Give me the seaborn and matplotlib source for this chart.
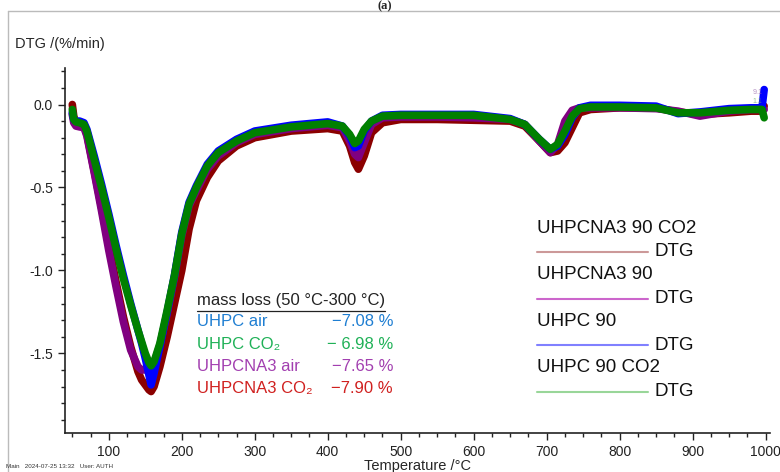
import matplotlib
matplotlib.use('Agg')
import matplotlib.pyplot as plt
from matplotlib.ticker import MultipleLocator
import seaborn as sns
import pandas as pd

# temperature grid (deg C) shared by the four DTG runs
temp = [50, 52, 55, 60, 66, 70, 80, 90, 100, 110, 120, 130, 140, 145, 150, 155, 158, 162,
        170, 180, 190, 200, 210, 220, 235, 250, 275, 300, 350, 400, 420, 430, 437, 442,
        450, 460, 475, 500, 550, 600, 650, 670, 690, 705, 715, 725, 735, 745, 760,
        800, 850, 880, 910, 950, 980, 995, 998]

dtg_uhpcna3_co2 = [0.0, -0.07, -0.115, -0.12, -0.13, -0.18, -0.40, -0.62, -0.85, -1.07, -1.28, -1.46, -1.61, -1.66, -1.69, -1.72, -1.73, -1.70,
                   -1.58, -1.40, -1.20, -1.00, -0.75, -0.58, -0.44, -0.34, -0.25, -0.20, -0.16, -0.145, -0.16, -0.25, -0.35, -0.39,
                   -0.31, -0.17, -0.11, -0.09, -0.09, -0.095, -0.10, -0.13, -0.22, -0.29, -0.28, -0.23, -0.14, -0.05, -0.03,
                   -0.02, -0.02, -0.045, -0.06, -0.05, -0.04, -0.04, -0.01]
dtg_uhpcna3 = [-0.06, -0.11, -0.13, -0.135, -0.14, -0.19, -0.41, -0.64, -0.88, -1.10, -1.31, -1.48, -1.58, -1.60, -1.60, -1.60, -1.59, -1.56,
               -1.45, -1.26, -1.04, -0.79, -0.61, -0.52, -0.39, -0.31, -0.23, -0.18, -0.145, -0.125, -0.14, -0.22, -0.30, -0.32,
               -0.23, -0.12, -0.08, -0.075, -0.075, -0.08, -0.09, -0.12, -0.22, -0.29, -0.24, -0.10, -0.035, -0.02, -0.02,
               -0.02, -0.025, -0.04, -0.07, -0.04, -0.03, -0.03, -0.03]
dtg_uhpc = [-0.05, -0.09, -0.10, -0.10, -0.11, -0.15, -0.31, -0.48, -0.66, -0.85, -1.03, -1.20, -1.36, -1.44, -1.53, -1.63, -1.69, -1.62,
            -1.46, -1.25, -1.03, -0.77, -0.59, -0.49, -0.36, -0.28, -0.21, -0.16, -0.125, -0.105, -0.13, -0.19, -0.26, -0.25,
            -0.16, -0.10, -0.065, -0.06, -0.06, -0.06, -0.085, -0.12, -0.21, -0.27, -0.25, -0.18, -0.08, -0.02, -0.005,
            -0.005, -0.01, -0.055, -0.045, -0.025, -0.02, -0.02, 0.09]
dtg_uhpc_co2 = [-0.03, -0.09, -0.105, -0.11, -0.12, -0.16, -0.33, -0.50, -0.68, -0.87, -1.05, -1.21, -1.36, -1.43, -1.50, -1.555, -1.575, -1.55,
                -1.44, -1.24, -1.03, -0.78, -0.60, -0.50, -0.37, -0.29, -0.22, -0.17, -0.135, -0.115, -0.13, -0.18, -0.235, -0.22,
                -0.15, -0.10, -0.07, -0.065, -0.065, -0.065, -0.09, -0.12, -0.21, -0.27, -0.24, -0.16, -0.07, -0.025, -0.015,
                -0.015, -0.02, -0.05, -0.05, -0.035, -0.03, -0.03, -0.08]

samples = ['UHPCNA3 90 CO2', 'UHPCNA3 90', 'UHPC 90', 'UHPC 90 CO2']
line_colors = ['#8b0000', '#800080', '#0000ff', '#008000']
legend_colors = ['#cc9999', '#cc66cc', '#8080ff', '#99d699']

mass_labels = ['UHPC air', 'UHPC CO\u2082', 'UHPCNA3 air', 'UHPCNA3 CO\u2082']
mass_values = ['\u22127.08 %', '\u2212 6.98 %', '\u22127.65 %', '\u22127.90 %']
mass_colors = ['#1f7ed2', '#1fb157', '#a23fb0', '#d0201f']

df = pd.DataFrame({
    'T': temp * 4,
    'DTG': dtg_uhpcna3_co2 + dtg_uhpcna3 + dtg_uhpc + dtg_uhpc_co2,
    'sample': [s for s in samples for _ in temp],
})

sns.set_style('ticks')
plt.rcParams['font.family'] = ['Liberation Sans', 'DejaVu Sans']

fig = plt.figure(figsize=(7.8, 4.72), dpi=100)
ax = fig.add_axes([65 / 780, 39 / 472, 705 / 780, 365 / 472])

sns.lineplot(data=df, x='T', y='DTG', hue='sample', hue_order=samples,
             palette=dict(zip(samples, line_colors)), linewidth=5.5, sort=False,
             legend=False, ax=ax, solid_joinstyle='round', solid_capstyle='round')

ax.set_xlim(40, 1006)
ax.set_ylim(-1.98, 0.22)
ax.xaxis.set_minor_locator(MultipleLocator(25))
ax.yaxis.set_minor_locator(MultipleLocator(0.1))
ax.set_xticks([100, 200, 300, 400, 500, 600, 700, 800, 900, 1000])
ax.set_yticks([0.0, -0.5, -1.0, -1.5])
ax.set_yticklabels(['0.0', '-0.5', '-1.0', '-1.5'])
ax.tick_params(which='major', length=5, width=1, labelsize=10, colors='#222222')
ax.tick_params(which='minor', length=3, width=1, colors='#222222')
sns.despine(ax=ax)
for s in ['left', 'bottom']:
    ax.spines[s].set_linewidth(1.2)
    ax.spines[s].set_color('#222222')
ax.set_xlabel('Temperature /\u00b0C', fontsize=10.5, labelpad=0)
ax.set_ylabel('')
fig.text(15 / 780, 1 - 44 / 472, 'DTG /(%/min)', fontsize=10.5, va='center', ha='left')

# tiny marker labels at the end of the runs
ax.text(0.975, 0.93, '9.1', transform=ax.transAxes, fontsize=5, color='#9966aa', alpha=0.7)
ax.text(0.975, 0.905, '1.1', transform=ax.transAxes, fontsize=5, color='#66aa66', alpha=0.7)

# legend on the right: name above, line sample with "DTG" below
for i, (name, c) in enumerate(zip(samples, legend_colors)):
    y_name = 1 - (228 + i * 46.5) / 472
    y_line = 1 - (252 + i * 46.5) / 472
    fig.text(537 / 780, y_name, name, fontsize=13.5, va='center', ha='left', color='#111111')
    fig.lines.append(plt.Line2D([537 / 780, 648 / 780], [y_line, y_line],
                                transform=fig.transFigure, color=c, lw=1.5))
    fig.text(655 / 780, y_line, 'DTG', fontsize=13.5, va='center', ha='left', color='#111111')

# mass loss box
fig.text(197 / 780, 1 - 301 / 472, 'mass loss (50 \u00b0C-300 \u00b0C)', fontsize=12,
         va='center', ha='left', color='#222222')
fig.lines.append(plt.Line2D([197 / 780, 385 / 780], [1 - 311 / 472, 1 - 311 / 472],
                            transform=fig.transFigure, color='#222222', lw=0.9))
for i, (lab, val, c) in enumerate(zip(mass_labels, mass_values, mass_colors)):
    y = 1 - (322 + i * 22.3) / 472
    fig.text(197 / 780, y, lab, fontsize=12, va='center', ha='left', color=c)
    fig.text(393 / 780, y, val, fontsize=12, va='center', ha='right', color=c)

# frame, panel tag and footer of the instrument printout
fig.lines.append(plt.Line2D([8 / 780, 1.0], [1 - 11 / 472, 1 - 11 / 472],
                            transform=fig.transFigure, color='#bbbbbb', lw=1))
fig.lines.append(plt.Line2D([8 / 780, 8 / 780], [0, 1 - 11 / 472],
                            transform=fig.transFigure, color='#bbbbbb', lw=1))
fig.text(385 / 780, 1 - 0.5 / 472, '(a)', fontsize=9, fontweight='bold', family='Liberation Serif',
         va='top', ha='center')
fig.text(6 / 780, 1 - 466 / 472, 'Main   2024-07-25 13:32   User: AUTH', fontsize=4.5,
         va='center', ha='left', color='#333333')

fig.savefig('out.png', dpi=100)
